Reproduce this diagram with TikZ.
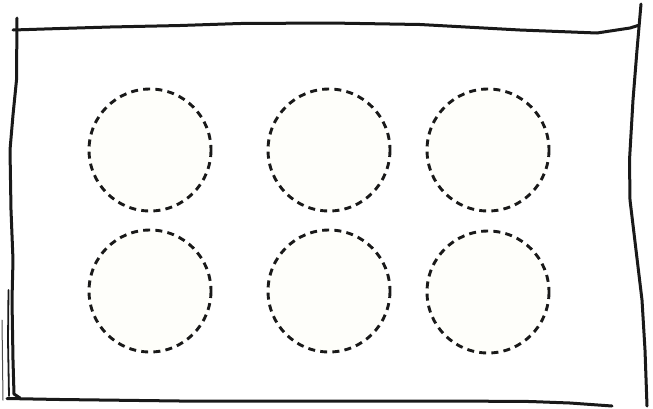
\documentclass[tikz,border=0pt]{standalone}
\definecolor{wellfill}{RGB}{254,254,250}
\begin{document}
\begin{tikzpicture}
% sketch of a plate with six wells, pixel units
\def\pxsz{1pt}
\providecommand{\wellRadius}{61}
\providecommand{\wellLineWidth}{2.9pt}
\providecommand{\frameLineWidth}{3pt}
\begin{scope}[x=\pxsz, y=-\pxsz, line cap=round, line join=round]
  % Page area
  \useasboundingbox (0,0) rectangle (653,408);
  % Outer frame, drawn by hand
  \begin{scope}[draw=black!90, line width=\frameLineWidth]
    \draw (13,30) -- (60,28.5) -- (110,27) -- (180,25.5) -- (240,23.5) -- (330,23) -- (420,24.5) -- (520,30) -- (597,33) -- (630,28) -- (638,25.5);
    \draw (641,4) -- (637,50) -- (633,100) -- (629.5,160) -- (630,200) -- (636,250) -- (642,300) -- (645,350) -- (647,406);
    \draw (7,398.5) -- (60,399.5) -- (180,401) -- (330,401) -- (450,401) -- (530,401.5) -- (570,403) -- (612,406);
    \draw (17,18) -- (16.5,80) -- (13,115) -- (10,150) -- (11,210) -- (13,260) -- (12,300) -- (13,360) -- (14,394) -- (20,398);
    \draw[line width=1.8pt] (8.5,290) -- (8,340) -- (9,396);
    \draw[line width=1pt, black!70] (2,320) -- (2.5,360) -- (3,400);
  \end{scope}
  % Dashed wells
  \begin{scope}[draw=black!90, fill=wellfill, line width=\wellLineWidth, line cap=butt, dash pattern=on 7pt off 5.2pt]
    \filldraw (150,150) circle (\wellRadius);
    \filldraw (329,150) circle (\wellRadius);
    \filldraw (488,150) circle (\wellRadius);
    \filldraw (150,291) circle (\wellRadius);
    \filldraw (329,291) circle (\wellRadius);
    \filldraw (488,292) circle (\wellRadius);
  \end{scope}
\end{scope}
\end{tikzpicture}
\end{document}
